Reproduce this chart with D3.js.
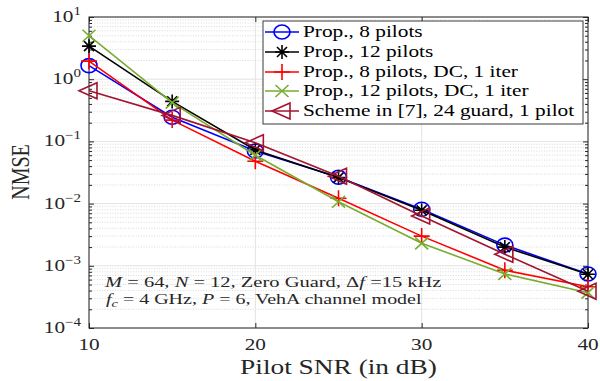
<!DOCTYPE html>
<html><head><meta charset="utf-8">
<script src="https://cdn.jsdelivr.net/npm/d3@7/dist/d3.min.js"></script>
<style>body{margin:0;background:#fff}svg{display:block}</style>
</head><body>
<svg id="chart" width="600" height="381"></svg>
<script>
// ---------- data ----------
const snr = [10, 15, 20, 25, 30, 35, 40];
const prop8    = [1.65, 0.245, 0.070, 0.0265, 0.0081, 0.00215, 0.00074];
const prop12   = [3.4,  0.44,  0.073, 0.0262, 0.0078, 0.0020,  0.00073];
const prop8dc  = [1.95, 0.22,  0.048, 0.0122, 0.0030, 0.00085, 0.00046];
const prop12dc = [5.0,  0.42,  0.060, 0.0107, 0.0023, 0.00074, 0.00037];
const scheme7  = [0.65, 0.262, 0.095, 0.0275, 0.0063, 0.00153, 0.00039];
const seriesNames = ["Prop., 8 pilots", "Prop., 12 pilots", "Prop., 8 pilots, DC, 1 iter",
                     "Prop., 12 pilots, DC, 1 iter", "Scheme in [7], 24 guard, 1 pilot"];
const xTicks = [10, 20, 30, 40];
const yExponents = [1, 0, -1, -2, -3, -4];
const xLabel = "Pilot SNR (in dB)";
const yLabel = "NMSE";

// ---------- setup ----------
const svg = d3.select("#chart");
const L = 89, R = 588, T = 17, B = 328;
const x = d3.scaleLinear().domain([10, 40]).range([L, R]);
const y = d3.scaleLog().domain([1e-4, 10]).range([B, T]);
const FONT = "'Liberation Serif', 'Times New Roman', serif";
const SX = 1.25;

const series = [
  {name: seriesNames[0], vals: prop8,    color: "#0000FF", marker: "circle"},
  {name: seriesNames[1], vals: prop12,   color: "#000000", marker: "star"},
  {name: seriesNames[2], vals: prop8dc,  color: "#FF0000", marker: "plus"},
  {name: seriesNames[3], vals: prop12dc, color: "#77AC30", marker: "cross"},
  {name: seriesNames[4], vals: scheme7,  color: "#A2142F", marker: "tri"}
];

// ---------- grid ----------
const minorVals = [];
for (let d = -4; d <= 0; d++) for (let k = 2; k <= 9; k++) minorVals.push(k * Math.pow(10, d));
const majorVals = yExponents.map(e => Math.pow(10, e));
const grid = svg.append("g");
grid.selectAll("line.minor").data(minorVals).enter().append("line")
  .attr("x1", L).attr("x2", R).attr("y1", d => y(d)).attr("y2", d => y(d))
  .attr("stroke", "#cfcfcf").attr("stroke-width", 0.8).attr("stroke-dasharray", "1,1.6");
grid.selectAll("line.majy").data(majorVals).enter().append("line")
  .attr("x1", L).attr("x2", R).attr("y1", d => y(d)).attr("y2", d => y(d))
  .attr("stroke", "#e3e3e3").attr("stroke-width", 1);
grid.selectAll("line.majx").data(xTicks).enter().append("line")
  .attr("y1", T).attr("y2", B).attr("x1", d => x(d)).attr("x2", d => x(d))
  .attr("stroke", "#e3e3e3").attr("stroke-width", 1);

// ---------- axes (ticks inward, box) ----------
function styleAxis(g) {
  g.select(".domain").remove();
  g.selectAll("line").attr("stroke", "#262626").attr("stroke-width", 1);
  g.selectAll("text").remove();
}
svg.append("g").attr("transform", `translate(0,${B})`)
  .call(d3.axisBottom(x).tickValues(xTicks).tickSize(-5)).call(styleAxis);
svg.append("g").attr("transform", `translate(0,${T})`)
  .call(d3.axisTop(x).tickValues(xTicks).tickSize(-5)).call(styleAxis);
svg.append("g").attr("transform", `translate(${L},0)`)
  .call(d3.axisLeft(y).tickValues(majorVals).tickSize(-5)).call(styleAxis);
svg.append("g").attr("transform", `translate(${R},0)`)
  .call(d3.axisRight(y).tickValues(majorVals).tickSize(-5)).call(styleAxis);
svg.append("g").attr("transform", `translate(${L},0)`)
  .call(d3.axisLeft(y).tickValues(minorVals).tickSize(-3)).call(styleAxis);
svg.append("g").attr("transform", `translate(${R},0)`)
  .call(d3.axisRight(y).tickValues(minorVals).tickSize(-3)).call(styleAxis);
svg.append("rect").attr("x", L).attr("y", T).attr("width", R - L).attr("height", B - T)
  .attr("fill", "none").attr("stroke", "#262626").attr("stroke-width", 1);

// ---------- markers ----------
function drawMarker(g, type, cx, cy, color) {
  const m = g.append("g").attr("transform", `translate(${cx},${cy})`)
    .attr("stroke", color).attr("stroke-width", 1.6).attr("fill", "none");
  if (type === "circle") {
    m.append("ellipse").attr("rx", 8).attr("ry", 7);
  } else if (type === "star") {
    const a = 7, b = 5;
    m.append("path").attr("d", `M${-a},0H${a}M0,${-a}V${a}M${-b},${-b}L${b},${b}M${-b},${b}L${b},${-b}`);
  } else if (type === "plus") {
    m.append("path").attr("d", `M-8,0H8M0,-8V8`);
  } else if (type === "cross") {
    m.append("path").attr("d", `M-6.5,-6L6.5,6M-6.5,6L6.5,-6`);
  } else if (type === "tri") {
    m.append("path").attr("d", `M-10,0L8,-8L8,8Z`);
  }
}

// ---------- series ----------
const line = d3.line().x((d, i) => x(snr[i])).y(d => y(d));
const plot = svg.append("g");
series.forEach(s => {
  const g = plot.append("g");
  g.append("path").attr("d", line(s.vals)).attr("fill", "none")
    .attr("stroke", s.color).attr("stroke-width", 1.6);
  s.vals.forEach((v, i) => drawMarker(g, s.marker, x(snr[i]), y(v), s.color));
});

// ---------- text helper ----------
function stext(parent, px, py, size, anchor, targetW, build, extra) {
  const g = parent.append("g");
  const t = g.append("text").attr("font-family", FONT).attr("font-size", size)
    .attr("text-anchor", anchor).attr("fill", "#262626");
  build(t);
  let s = SX;
  if (targetW) { const w = t.node().getBBox().width; s = targetW / w; }
  g.attr("transform", `translate(${px},${py}) scale(${s},1)` + (extra || ""));
  return g;
}

// tick labels
xTicks.forEach(v => {
  stext(svg, x(v), 350, 17, "middle", null, t => t.text(v));
});
yExponents.forEach(e => {
  stext(svg, 81, y(Math.pow(10, e)) + 5, 17, "end", null, t => {
    t.append("tspan").text("10");
    t.append("tspan").attr("font-size", 12).attr("dy", -7).text(e < 0 ? "\u2212" + (-e) : e);
  });
});

// axis labels
stext(svg, x(25), 374, 21, "middle", 197, t => t.text(xLabel));
svg.append("text").attr("font-family", FONT).attr("font-size", 20).attr("text-anchor", "middle")
  .attr("fill", "#262626")
  .attr("transform", `translate(28.5,172) scale(1.27,1) rotate(-90)`).text(yLabel);

// annotation
stext(svg, 105, 287, 14, "start", 338, t => {
  t.append("tspan").attr("font-style", "italic").text("M");
  t.append("tspan").text(" = 64, ");
  t.append("tspan").attr("font-style", "italic").text("N");
  t.append("tspan").text(" = 12, Zero Guard, \u0394");
  t.append("tspan").attr("font-style", "italic").text("f");
  t.append("tspan").text(" =15 kHz");
});
stext(svg, 106, 304, 14, "start", 316, t => {
  t.append("tspan").attr("font-style", "italic").text("f");
  t.append("tspan").attr("font-style", "italic").attr("font-size", 10).attr("dy", 3).text("c");
  t.append("tspan").attr("dy", -3).text(" = 4 GHz, ");
  t.append("tspan").attr("font-style", "italic").text("P");
  t.append("tspan").text(" = 6, VehA channel model");
});

// ---------- legend ----------
const lg = svg.append("g");
lg.append("rect").attr("x", 263).attr("y", 21).attr("width", 320).attr("height", 103)
  .attr("fill", "#fff").attr("stroke", "#3a3a3a").attr("stroke-width", 1);
const legY = [32, 52, 72, 91, 111];
// compute common horizontal scale from the longest entry
const probe = svg.append("text").attr("font-family", FONT).attr("font-size", 16).text(seriesNames[4]);
const legScale = 272 / probe.node().getBBox().width;
probe.remove();
series.forEach((s, i) => {
  const cy = legY[i];
  lg.append("line").attr("x1", 265).attr("x2", 299).attr("y1", cy).attr("y2", cy)
    .attr("stroke", s.color).attr("stroke-width", 1.6);
  drawMarker(lg, s.marker, 282, cy, s.color);
  const g = lg.append("g").attr("transform", `translate(303,${cy + 5}) scale(${legScale},1)`);
  g.append("text").attr("font-family", FONT).attr("font-size", 16).attr("fill", "#000").text(s.name);
});
</script>
</body></html>
